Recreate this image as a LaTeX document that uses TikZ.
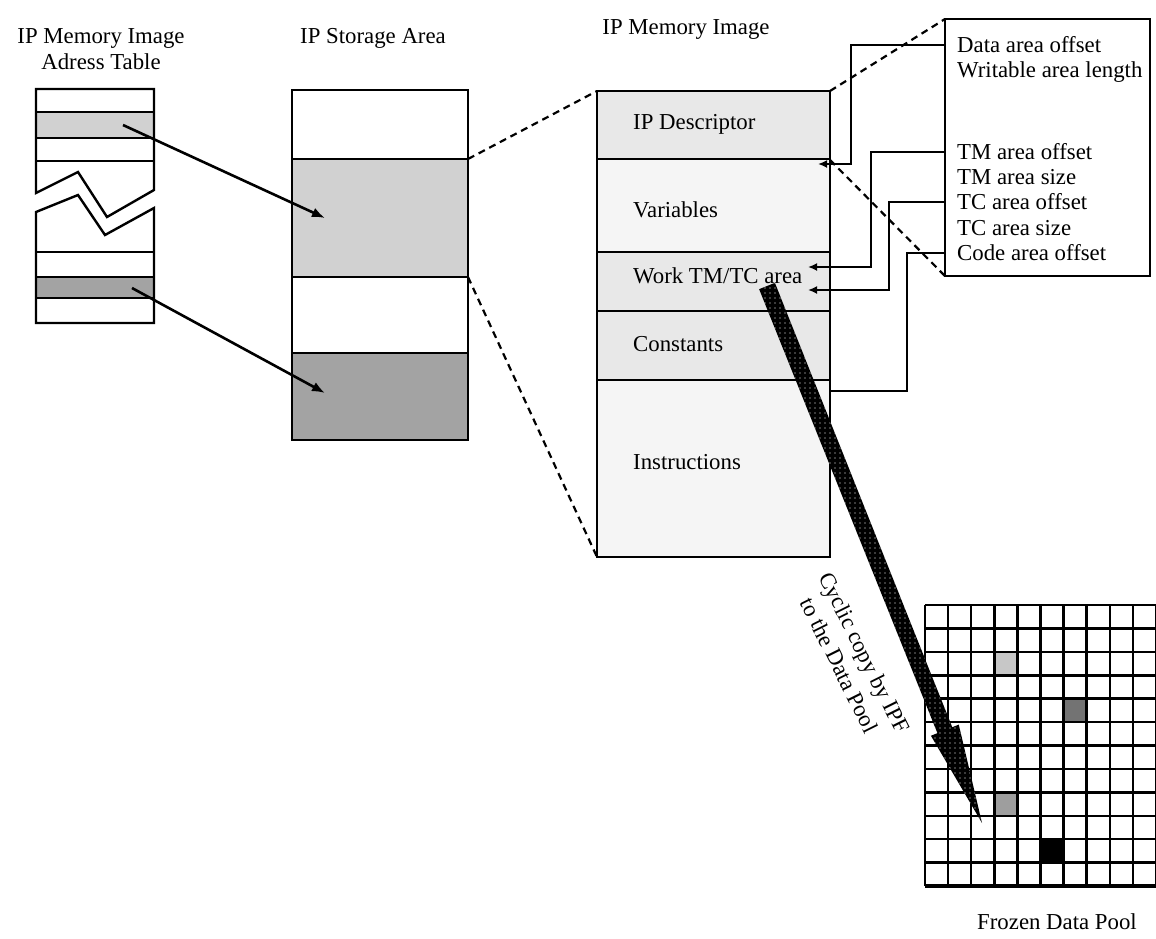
\documentclass[tikz,border=0pt]{standalone}
\usepackage{fontspec}
\setmainfont{Liberation Serif}
\usetikzlibrary{arrows.meta,calc,patterns.meta}
\begin{document}
\begin{tikzpicture}[x=1pt,y=-1pt,
  outline/.style={line width=2.4pt, line join=miter},
  sepline/.style={line width=2.2pt},
  lightfill/.style={fill=black!18},
  densefill/.style={fill=black!36},
  memfill/.style={fill=black!9},
  memlight/.style={fill=black!4},
  linkdash/.style={line width=2.2pt, dash pattern=on 7pt off 5pt},
  ptr/.style={line width=2.6pt, -{Latex[length=13pt,width=10pt]}},
  offsetlink/.style={line width=1.8pt, -{Latex[length=9pt,width=8pt]}},
  plainlink/.style={line width=1.8pt},
  txt/.style={font=\fontsize{22.8}{26}\selectfont, inner sep=0pt},
  gridline/.style={line width=2.5pt},
]
\useasboundingbox (0,0) rectangle (1156,938);
\fill[white] (0,0) rectangle (1156,938);

% ---------- titles ----------
\node[txt, align=center] (tAddr) at (101,49) {IP Memory Image\\Adress Table};
\node[txt] (tStore) at (373,38) {IP Storage Area};
\node[txt] (tMem) at (686,29) {IP Memory Image};

% ---------- address table ----------
\fill[lightfill] (36,112) rectangle (154,138);
\fill[densefill] (36,277) rectangle (154,298);
\draw[outline] (36,193) -- (36,89) -- (154,89) -- (154,190) -- (107,217) -- (78,172) -- cycle;
\draw[sepline] (36,112) -- (154,112) (36,138) -- (154,138) (36,161) -- (154,161);
\draw[outline] (36,212) -- (78,195) -- (105,235) -- (154,208) -- (154,323) -- (36,323) -- cycle;
\draw[sepline] (36,252) -- (154,252) (36,277) -- (154,277) (36,298) -- (154,298);
\coordinate (addr1) at (123,125);
\coordinate (addr2) at (132,288);

% ---------- storage area ----------
\fill[lightfill] (292,159) rectangle (468,277);
\fill[densefill] (292,353) rectangle (468,440);
\draw[outline] (292,90) rectangle (468,440);
\draw[sepline] (292,159) -- (468,159) (292,277) -- (468,277) (292,353) -- (468,353);
\coordinate (store1) at (325,218);
\coordinate (store2) at (325,393);
\coordinate (storeA) at (468,159);
\coordinate (storeB) at (468,277);

\draw[ptr] (addr1) -- (store1);
\draw[ptr] (addr2) -- (store2);

% ---------- memory image ----------
\fill[memfill]  (597,91)  rectangle (830,159);
\fill[memlight] (597,159) rectangle (830,252);
\fill[memfill]  (597,252) rectangle (830,311);
\fill[memfill]  (597,311) rectangle (830,380);
\fill[memlight] (597,380) rectangle (830,557);
\draw[outline] (597,91) rectangle (830,557);
\draw[sepline] (597,159) -- (830,159) (597,252) -- (830,252) (597,311) -- (830,311) (597,380) -- (830,380);
\node[txt, anchor=west] (mDesc) at (633,124) {IP Descriptor};
\node[txt, anchor=west] (mVar)  at (633,210) {Variables};
\node[txt, anchor=west] (mWork) at (633,276) {Work TM/TC area};
\node[txt, anchor=west] (mCon)  at (633,344) {Constants};
\node[txt, anchor=west] (mIns)  at (633,462) {Instructions};
\coordinate (memTL) at (597,91);
\coordinate (memBL) at (597,557);
\coordinate (memTR) at (830,91);
\coordinate (memDR) at (830,160);

\draw[linkdash] (storeA) -- (memTL);
\draw[linkdash] (storeB) -- (memBL);

% ---------- descriptor box ----------
\draw[outline] (945,19) rectangle (1150,276);
\coordinate (boxTL) at (945,19);
\coordinate (boxBL) at (945,276);
\node[txt, anchor=west] (dData) at (957,45)  {Data area offset};
\node[txt, anchor=west] (dWrit) at (957,72)  {Writable area length};
\node[txt, anchor=west] (dTMo)  at (957,152) {TM area offset};
\node[txt, anchor=west] (dTMs)  at (957,177) {TM area size};
\node[txt, anchor=west] (dTCo)  at (957,202) {TC area offset};
\node[txt, anchor=west] (dTCs)  at (957,228) {TC area size};
\node[txt, anchor=west] (dCode) at (957,253) {Code area offset};

\draw[linkdash] (memTR) -- (boxTL);
\draw[linkdash] (memDR) -- (boxBL);

\coordinate (pData) at (945,45);
\coordinate (pTM) at (945,152);
\coordinate (pTC) at (945,202);
\coordinate (pCode) at (945,253);
\coordinate (aData) at (818,164);
\coordinate (aTM) at (808,267);
\coordinate (aTC) at (808,290);
\coordinate (aCode) at (830,391);
\draw[offsetlink] (pData) -| (851,164) -- (aData);
\draw[offsetlink] (pTM) -| (871,267) -- (aTM);
\draw[offsetlink] (pTC) -| (889,290) -- (aTC);
\draw[plainlink] (pCode) -| (907,391) -- (aCode);

% ---------- frozen data pool ----------
\fill[black!22] ({925+23.1*3},{605+23.42*2}) rectangle ++(23.1,23.42);
\fill[black!55] ({925+23.1*6},{605+23.42*4}) rectangle ++(23.1,23.42);
\fill[black!38] ({925+23.1*3},{605+23.42*8}) rectangle ++(23.1,23.42);
\fill[black]    ({925+23.1*5},{605+23.42*10}) rectangle ++(23.1,23.42);
\foreach \i in {0,...,10} \draw[gridline] ({925+23.1*\i},605) -- ({925+23.1*\i},886);
\foreach \j in {0,...,12} \draw[gridline] (925,{605+23.42*\j}) -- (1156,{605+23.42*\j});
\draw[line width=3.8pt] (925,886) -- (1156,886);
\node[txt] (pool) at (1057,922) {Frozen Data Pool};

% ---------- copy arrow ----------
\coordinate (cS) at (767,286);
\coordinate (cT) at (982,823);
\coordinate (cB) at ($(cT)!100pt!(cS)$);
\path[preaction={fill=black}, pattern={Dots[distance=5pt,radius=0.6pt]}, pattern color=white]
  ($(cS)!8.5pt!90:(cT)$) -- ($(cB)!8pt!-90:(cS)$) -- ($(cB)!15pt!-90:(cS)$) -- (cT)
  -- ($(cB)!15pt!90:(cS)$) -- ($(cB)!8pt!90:(cS)$) -- ($(cS)!8.5pt!-90:(cT)$) -- cycle;
\node[txt, align=center, rotate=-63.5, font=\fontsize{22.8}{28}\selectfont] (copyLbl) at (852,659) {Cyclic copy by IPF\\to the Data Pool};

\end{tikzpicture}
\end{document}
